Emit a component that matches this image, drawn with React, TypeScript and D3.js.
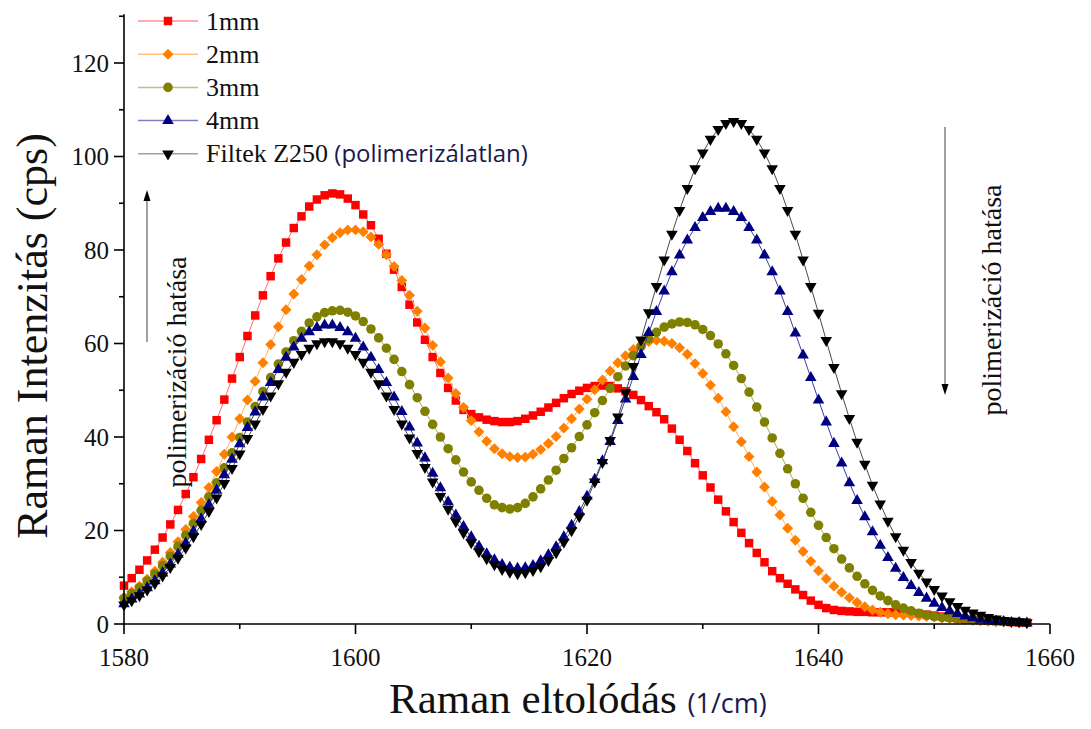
import React from 'react';
import * as d3 from 'd3';

// Raman shift sampling grid (1/cm)
const wavenumbers: number[] = d3.range(118).map((i) => 1580 + (i * 2) / 3);

const series1mm = [
  8.2, 9.8, 11.6, 13.6, 15.9, 18.5, 21.3, 24.4, 27.8, 31.4, 35.3, 39.4, 43.6, 48.0, 52.5, 57.1, 61.6, 66.0, 70.3, 74.4, 78.2, 81.6, 84.7, 87.2, 89.3, 90.8, 91.7,
  92.1, 91.9, 91.0, 89.6, 87.6, 85.3, 82.4, 79.2, 75.8, 72.1, 68.3, 64.5, 60.8, 57.1, 53.7, 50.5, 47.8,
  45.8, 44.9, 44.2, 43.7, 43.4, 43.2, 43.2, 43.4, 43.9, 44.6, 45.4, 46.3, 47.3, 48.3, 49.2, 49.9, 50.5, 50.9, 51.0,
  50.9, 50.4, 49.8, 49.0, 47.9, 46.6, 45.3, 43.8, 41.8, 39.4, 37.0, 34.4, 31.8, 29.2, 26.6, 24.1, 21.8,
  19.5, 17.3, 15.2, 13.2, 11.3, 9.8, 8.6, 7.4, 6.2, 5.0, 4.1, 3.4, 3.0, 2.8,
  2.7, 2.6, 2.6, 2.5, 2.5, 2.5, 2.5, 2.5, 2.4, 2.2, 2.0, 1.8, 1.6, 1.4, 1.2, 1.0, 0.9, 0.8, 0.7, 0.6, 0.5, 0.4, 0.3, 0.3,
];

const series2mm = [
  5.7, 6.9, 8.1, 9.6, 11.3, 13.2, 15.3, 17.6, 20.2, 23.0, 26.0, 29.2, 32.6, 36.3, 40.0, 43.9, 47.9, 51.9, 55.9, 59.8, 63.6, 67.2, 70.6, 73.7,
  76.6, 79.0, 81.1, 82.6, 83.7, 84.3, 84.3, 83.9, 82.8, 81.2, 79.0, 76.5, 73.5, 70.3, 66.9, 63.3, 59.6, 56.1, 52.6, 49.3, 46.3, 43.5, 41.1, 39.1, 37.5, 36.4,
  35.8, 35.6, 35.7, 36.3, 37.3, 38.6, 40.1, 41.9, 43.9, 46.0, 48.1, 50.1, 52.2, 54.1, 55.9, 57.4, 58.7, 59.7, 60.4, 60.7, 60.5, 60.0, 59.1, 57.7,
  55.7, 53.6, 51.1, 48.3, 45.4, 42.2, 39.0, 35.8, 32.5, 29.3, 26.2, 23.3, 20.5, 17.9, 15.5, 13.4, 11.4, 9.7, 8.1, 6.8, 5.6, 4.6, 3.7, 3.0,
  2.5, 2.2, 2.0, 1.9, 1.8, 1.7, 1.6, 1.5, 1.3, 1.2, 1.0, 0.9, 0.8, 0.7, 0.6, 0.5, 0.4, 0.4, 0.3, 0.3,
];

const series3mm = [
  5.5, 6.5, 7.8, 9.2, 10.7, 12.5, 14.5, 16.6, 19.0, 21.5, 24.3, 27.2, 30.2, 33.4, 36.6, 39.9, 43.2, 46.5, 49.7, 52.7, 55.6, 58.2,
  60.6, 62.6, 64.4, 65.7, 66.6, 67.0, 67.1, 66.7, 65.9, 64.7, 63.1, 61.2, 59.0, 56.6, 54.0, 51.2, 48.4, 45.5, 42.7, 40.0, 37.5, 35.1,
  32.5, 30.4, 28.6, 26.9, 25.5, 24.9, 24.6, 24.9, 25.8, 27.2, 28.9, 30.8, 32.9,
  35.4, 37.7, 40.1, 42.6, 45.2, 47.8, 50.4, 52.9, 55.2, 57.4, 59.4, 61.0, 62.4, 63.5, 64.2, 64.6,
  64.5, 64.0, 63.0, 61.7, 59.9, 57.8, 55.3, 52.5, 49.6, 46.4, 43.2, 39.8, 36.5, 33.2, 30.0, 26.9, 23.9, 21.1, 18.5, 16.1, 13.9, 12.0, 10.2, 8.6, 7.2, 6.0, 5.0, 4.1, 3.4, 2.8, 2.3, 1.9,
  1.6, 1.4, 1.3, 1.2, 1.1, 1.0, 0.9, 0.8, 0.7, 0.6, 0.5, 0.4, 0.3,
];

const series4mm = [
  4.3, 5.3, 6.4, 7.7, 9.2, 10.9, 12.8, 14.9, 17.3, 19.8, 22.5, 25.5, 28.6, 31.9, 35.2, 38.5, 42.0, 45.3, 48.5, 51.6, 54.4, 57.0, 59.2, 61.1, 62.5, 63.4, 63.9,
  63.9, 63.4, 62.5, 61.1, 59.2, 57.0, 54.4, 51.6, 48.5, 45.4, 42.1, 38.7, 35.5, 32.2, 29.1, 26.1, 23.3, 20.8, 18.6, 16.6, 15.0, 13.7, 12.7, 12.1, 11.9, 12.0, 12.5,
  13.5, 14.8, 16.5, 18.6, 21.1, 24.0, 27.3, 30.9, 34.9, 39.0, 43.5, 48.1, 52.9, 57.6, 62.3, 66.8, 71.2, 75.3, 78.9, 82.1, 84.8, 86.9, 88.2, 88.9,
  88.9, 88.2, 86.9, 84.8, 82.1, 78.9, 75.3, 71.2, 66.8, 62.2, 57.5, 52.7, 47.9, 43.2, 38.6, 34.4, 30.2, 26.4, 22.9, 19.7, 16.8, 14.2, 11.9, 9.9, 8.2, 6.7, 5.5, 4.4, 3.5, 2.8, 2.2, 1.7, 1.3, 1.0, 0.8, 0.6, 0.5, 0.3, 0.3, 0.2,
];

const seriesFiltek = [
  4.1, 5.0, 6.1, 7.3, 8.7, 10.3, 12.1, 14.1, 16.3, 18.7, 21.3, 24.1, 27.0, 30.1, 33.3, 36.4, 39.7, 42.8, 45.9, 48.8, 51.4, 53.9, 56.0, 57.7, 59.0, 60.0, 60.4,
  60.4, 60.0, 59.0, 57.7, 56.0, 53.9, 51.4, 48.8, 45.9, 42.8, 39.8, 36.5, 33.5, 30.4, 27.3, 24.6, 21.9, 19.5, 17.4, 15.5, 14.0, 12.7, 11.7, 11.1, 10.8, 11.0, 11.5,
  12.3, 13.6, 15.3, 17.5, 20.0, 23.0, 26.5, 30.4, 34.6, 39.3, 44.3, 49.5, 55.1, 60.8, 66.6, 72.2, 77.9, 83.4, 88.5, 93.2, 97.4, 100.8, 103.7, 105.8, 107.1, 107.5,
  107.1, 105.8, 103.7, 100.8, 97.4, 93.2, 88.5, 83.4, 77.9, 72.2, 66.5, 60.7, 54.9, 49.3, 44.0, 38.9, 34.2, 29.7, 25.7, 22.0, 18.7, 15.8, 13.2, 10.9, 9.0, 7.4, 6.0, 4.8, 3.8, 3.0, 2.4, 1.9, 1.4, 1.1, 0.8, 0.6, 0.5, 0.3,
];

const seriesLabels = ['1mm', '2mm', '3mm', '4mm', 'Filtek Z250'];
const xMajorTicks = [1580, 1600, 1620, 1640, 1660];
const xMinorTicks = [1590, 1610, 1630, 1650];
const yMajorTicks = [0, 20, 40, 60, 80, 100, 120];
const yMinorTicks = [10, 30, 50, 70, 90, 110, 130];

const allSeries = [series1mm, series2mm, series3mm, series4mm, seriesFiltek];

type Style = { symbol: d3.SymbolType; size: number; rotate: number; fill: string; line: string; legendLine: string };
const styles: Style[] = [
  { symbol: d3.symbolSquare, size: 72, rotate: 0, fill: '#ff0000', line: '#ff6a6a', legendLine: '#ff9090' },
  { symbol: d3.symbolSquare, size: 60, rotate: 45, fill: '#ff8000', line: '#ffb060', legendLine: '#ffc080' },
  { symbol: d3.symbolCircle, size: 72, rotate: 0, fill: '#808000', line: '#a8a858', legendLine: '#c0c080' },
  { symbol: d3.symbolTriangle, size: 58, rotate: 0, fill: '#000080', line: '#3c3ca8', legendLine: '#8080c0' },
  { symbol: d3.symbolTriangle, size: 58, rotate: 180, fill: '#000000', line: '#4a4a4a', legendLine: '#a0a0a0' },
];

const serif: React.CSSProperties = { fontFamily: 'Liberation Serif, Times New Roman, serif' };
const sans: React.CSSProperties = { fontFamily: 'Open Sans, Noto Sans, sans-serif' };

export default function App() {
  const W = 1091;
  const H = 729;
  const x = d3.scaleLinear().domain([1580, 1660]).range([124, 1050]);
  const y = d3.scaleLinear().domain([0, 130]).range([624, 16.25]);

  const lineGen = d3
    .line<number>()
    .x((_, i) => x(wavenumbers[i]))
    .y((d) => y(d));

  const legendX = 138;
  const legendY0 = 21;
  const legendDy = 33.2;

  return (
    <div style={{ position: 'absolute', left: 0, top: 0 }}>
      <svg width={W} height={H} viewBox={`0 0 ${W} ${H}`} style={{ display: 'block', background: '#fff' }}>
        {/* series */}
        {allSeries.map((vals, si) => {
          const st = styles[si];
          const path = d3.symbol().type(st.symbol).size(st.size)() as string;
          return (
            <g key={si}>
              <path d={lineGen(vals) as string} fill="none" stroke={st.line} strokeWidth={1} />
              {vals.map((v, i) => (
                <path
                  key={i}
                  d={path}
                  fill={st.fill}
                  transform={`translate(${x(wavenumbers[i])},${y(v)}) rotate(${st.rotate})`}
                />
              ))}
            </g>
          );
        })}

        {/* axes */}
        <g stroke="#000" strokeWidth={1.6}>
          <line x1={x(1580)} x2={x(1660)} y1={y(0)} y2={y(0)} />
          <line x1={x(1580)} x2={x(1580)} y1={y(0)} y2={y(130) - 2} />
          {xMajorTicks.map((t) => (
            <line key={'xM' + t} x1={x(t)} x2={x(t)} y1={y(0)} y2={y(0) + 10} />
          ))}
          {xMinorTicks.map((t) => (
            <line key={'xm' + t} x1={x(t)} x2={x(t)} y1={y(0)} y2={y(0) + 5} />
          ))}
          {yMajorTicks.map((t) => (
            <line key={'yM' + t} x1={x(1580) - 10} x2={x(1580)} y1={y(t)} y2={y(t)} />
          ))}
          {yMinorTicks.map((t) => (
            <line key={'ym' + t} x1={x(1580) - 5} x2={x(1580)} y1={y(t)} y2={y(t)} />
          ))}
        </g>
        <g style={serif} fontSize={25} fill="#111">
          {xMajorTicks.map((t) => (
            <text key={'xl' + t} x={x(t)} y={y(0) + 42} textAnchor="middle">
              {t}
            </text>
          ))}
          {yMajorTicks.map((t) => (
            <text key={'yl' + t} x={x(1580) - 15} y={y(t) + 8.5} textAnchor="end">
              {t}
            </text>
          ))}
        </g>

        {/* axis titles */}
        <text
          transform={`translate(47,336) rotate(-90)`}
          textAnchor="middle"
          style={serif}
          fontSize={44}
          fill="#111"
        >
          Raman Intenzitás (cps)
        </text>
        <text x={389} y={713} style={serif} fontSize={43} fill="#111">
          Raman eltolódás{' '}
          <tspan style={sans} fontSize={27} fill="#1a1a50">
            (1/cm)
          </tspan>
        </text>

        {/* annotations */}
        <g>
          <line x1={147} x2={147} y1={342} y2={200} stroke="#8a8a8a" strokeWidth={1.6} />
          <path d="M147,190 L143.5,201 L150.5,201 Z" fill="#000" />
          <text
            transform={`translate(186,372) rotate(-90)`}
            textAnchor="middle"
            style={serif}
            fontSize={28}
            fill="#111"
          >
            polimerizáció hatása
          </text>
          <line x1={945} x2={945} y1={127} y2={384} stroke="#8a8a8a" strokeWidth={1.6} />
          <path d="M945,395 L941.5,384 L948.5,384 Z" fill="#000" />
          <text
            transform={`translate(1001,300) rotate(-90)`}
            textAnchor="middle"
            style={serif}
            fontSize={28}
            fill="#111"
          >
            polimerizáció hatása
          </text>
        </g>

        {/* legend */}
        {seriesLabels.map((lab, si) => {
          const st = styles[si];
          const cy = legendY0 + si * legendDy;
          const path = d3.symbol().type(st.symbol).size(st.size)() as string;
          return (
            <g key={'lg' + si}>
              <line x1={legendX} x2={legendX + 60} y1={cy} y2={cy} stroke={st.legendLine} strokeWidth={1.5} />
              <path d={path} fill={st.fill} transform={`translate(${legendX + 30},${cy}) rotate(${st.rotate})`} />
              <text x={legendX + 68} y={cy + 8.5} style={serif} fontSize={26} fill="#111">
                {lab}
                {si === 4 ? (
                  <tspan style={sans} fontSize={24} fill="#1a1a50">
                    {' '}
                    (polimerizálatlan)
                  </tspan>
                ) : null}
              </text>
            </g>
          );
        })}
      </svg>
    </div>
  );
}
